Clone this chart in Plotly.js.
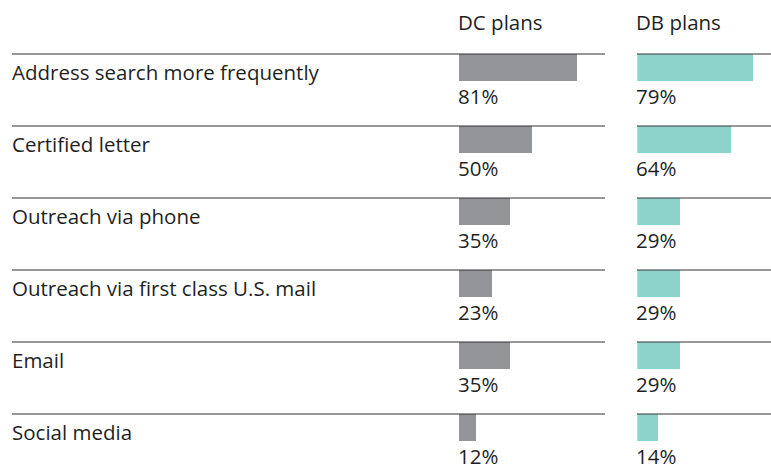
<!DOCTYPE html>
<html><head><meta charset="utf-8">
<script src="https://cdn.plot.ly/plotly-3.0.1.min.js"></script>
<style>html,body{margin:0;padding:0;background:#fff}#chart{width:771px;height:466px}</style>
</head><body><div id="chart"></div>
<script>
const categories = ["Address search more frequently","Certified letter","Outreach via phone","Outreach via first class U.S. mail","Email","Social media"];
const dcValues = [81, 50, 35, 23, 35, 12];
const dbValues = [79, 64, 29, 29, 29, 14];
const seriesNames = ["DC plans", "DB plans"];

const W = 771, H = 466;
const FONT = "'Open Sans', sans-serif";
const TXT = "#1f1f1f";
const idx = categories.map((c,i)=>i);
const fs = 20.5;

const traces = [
  {type:'bar', orientation:'h', x:dcValues, y:idx, xaxis:'x', yaxis:'y',
   marker:{color:'#939598'}, width:0.375, offset:-0.5, hoverinfo:'skip'},
  {type:'bar', orientation:'h', x:dbValues, y:idx, xaxis:'x2', yaxis:'y',
   marker:{color:'#8dd3cb'}, width:0.375, offset:-0.5, hoverinfo:'skip'}
];

const annotations = [];
const shapes = [];
categories.forEach((c,i)=>{
  annotations.push({text:c, xref:'paper', x:12/W, xanchor:'left', xshift:-2, y:i-0.25, yref:'y', yanchor:'middle', showarrow:false, font:{family:FONT,size:fs,color:TXT}});
  annotations.push({text:dcValues[i]+'%', xref:'x', x:0, xanchor:'left', y:i+0.08, yref:'y', yanchor:'middle', showarrow:false, xshift:-3, font:{family:FONT,size:fs,color:TXT}});
  annotations.push({text:dbValues[i]+'%', xref:'x2', x:0, xanchor:'left', y:i+0.08, yref:'y', yanchor:'middle', showarrow:false, xshift:-3, font:{family:FONT,size:fs,color:TXT}});
  shapes.push({type:'line', xref:'paper', x0:12/W, x1:605/W, yref:'y', y0:i-0.5, y1:i-0.5, line:{color:'#333',width:1}, layer:'above'});
  shapes.push({type:'line', xref:'paper', x0:637/W, x1:1, yref:'y', y0:i-0.5, y1:i-0.5, line:{color:'#333',width:1}, layer:'above'});
});
annotations.push({text:seriesNames[0], xref:'x', x:0, xanchor:'left', xshift:-3, yref:'paper', y:1-22/H, yanchor:'middle', showarrow:false, font:{family:FONT,size:fs,color:TXT}});
annotations.push({text:seriesNames[1], xref:'x2', x:0, xanchor:'left', xshift:-3, yref:'paper', y:1-22/H, yanchor:'middle', showarrow:false, font:{family:FONT,size:fs,color:TXT}});

const layout = {
  width:W, height:H, margin:{l:0,r:0,t:0,b:0},
  paper_bgcolor:'#fff', plot_bgcolor:'#fff', showlegend:false,
  xaxis:{domain:[458.7/W, 605/W], range:[0,100], visible:false, fixedrange:true},
  xaxis2:{domain:[637.3/W, 1], range:[0,91.1], visible:false, fixedrange:true},
  yaxis:{range:[-1.25+H/72, -1.25], visible:false, fixedrange:true},
  annotations, shapes, bargap:0
};
Plotly.newPlot('chart', traces, layout, {displayModeBar:false, staticPlot:true});
</script></body></html>
